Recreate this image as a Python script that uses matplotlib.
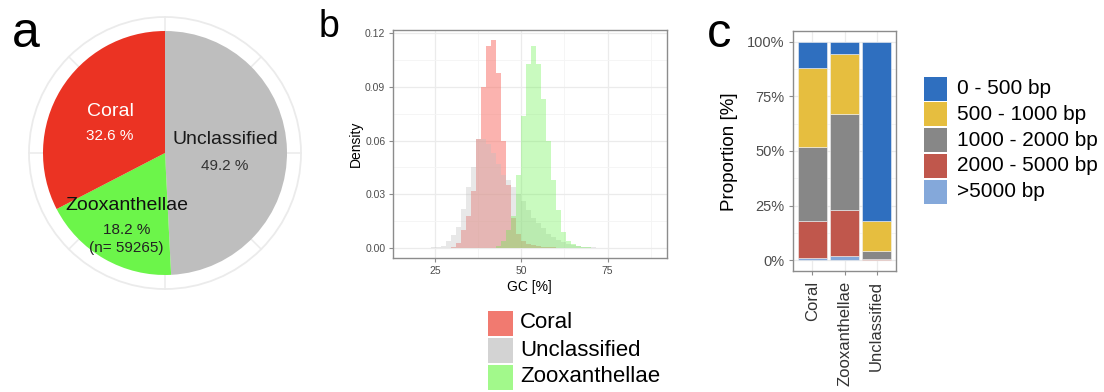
import matplotlib
matplotlib.use("Agg")
import matplotlib.pyplot as plt
import numpy as np
from matplotlib.patches import Rectangle, Circle
from matplotlib.ticker import FormatStrFormatter

plt.rcParams['font.family'] = ['Liberation Sans', 'DejaVu Sans']

# ---------------- data ----------------
# panel a: pie (clockwise from 12 o'clock)
pie_labels = ['Unclassified', 'Zooxanthellae', 'Coral']
pie_pct = [49.2, 18.2, 32.6]
zoox_n = 59265

# panel b: GC histogram densities (shared bins)
gc_bin_width = 1.45
gc_first_edge = 22.35
gc_coral = [0, 0, 0, 0, 0.0002, 0.0008, 0.003, 0.010, 0.018, 0.032, 0.061, 0.090,
            0.113, 0.116, 0.098, 0.060, 0.035, 0.017, 0.008, 0.004, 0.0025, 0.0018,
            0.0012, 0.0008, 0.0005, 0.0003, 0.0002, 0.0001, 0, 0, 0, 0, 0, 0, 0, 0, 0]
gc_unclassified = [0.0001, 0.0003, 0.0007, 0.0013, 0.004, 0.007, 0.012, 0.022, 0.034,
                   0.045, 0.061, 0.061, 0.058, 0.053, 0.047, 0.041, 0.038, 0.034, 0.030,
                   0.026, 0.021, 0.017, 0.014, 0.011, 0.008, 0.006, 0.0045, 0.0035,
                   0.0025, 0.0018, 0.0012, 0.0008, 0.0005, 0.0003, 0.0002, 0.0001, 0.0001]
gc_zoox = [0, 0, 0, 0, 0, 0, 0, 0, 0, 0, 0, 0, 0, 0, 0.001, 0.004, 0.010, 0.018, 0.041,
           0.074, 0.103, 0.113, 0.103, 0.083, 0.060, 0.038, 0.021, 0.009, 0.004, 0.002,
           0.001, 0.0005, 0.0003, 0.0002, 0, 0, 0]
gc_groups = ['Coral', 'Unclassified', 'Zooxanthellae']

# panel c: contig length proportions
len_categories = ['Coral', 'Zooxanthellae', 'Unclassified']
len_classes = ['0 - 500 bp', '500 - 1000 bp', '1000 - 2000 bp', '2000 - 5000 bp', '>5000 bp']
p_0_500 = [0.119, 0.055, 0.823]
p_500_1000 = [0.361, 0.275, 0.137]
p_1000_2000 = [0.343, 0.439, 0.035]
p_2000_5000 = [0.168, 0.210, 0.004]
p_gt5000 = [0.009, 0.021, 0.001]

# ---------------- figure ----------------
W, H = 1104, 392
fig = plt.figure(figsize=(W / 100, H / 100), dpi=100)


def add_ax(x0, y0, x1, y1):
    return fig.add_axes([x0 / W, 1 - y1 / H, (x1 - x0) / W, (y1 - y0) / H])


def fx(x):
    return x / W


def fy(y):
    return 1 - y / H


# ---------- panel a ----------
axa = add_ax(15, 3, 315, 303)
R_out, R_pie = 136, 122
for ang in np.deg2rad(np.arange(0, 360, 45)):
    axa.plot([0, R_out * np.cos(ang)], [0, R_out * np.sin(ang)], color='#EBEBEB', lw=1.1, zorder=0)
axa.add_patch(Circle((0, 0), R_out, fill=False, ec='#EBEBEB', lw=1.3, zorder=0))
pie_colors = {'Unclassified': '#BEBEBE', 'Zooxanthellae': '#6CF54A', 'Coral': '#EB3323'}
axa.pie(pie_pct, colors=[pie_colors[l] for l in pie_labels], radius=R_pie, startangle=90,
        counterclock=False, wedgeprops=dict(linewidth=0, zorder=2))
axa.set_xlim(-150, 150)
axa.set_ylim(-150, 150)
axa.set_aspect('equal')
axa.axis('off')
pct = dict(zip(pie_labels, pie_pct))
axa.text(-55, 41, 'Coral', color='white', fontsize=14, ha='center', va='center', zorder=5)
axa.text(-55, 17, f"{pct['Coral']} %", color='white', fontsize=11, ha='center', va='center', zorder=5)
axa.text(60, 13, 'Unclassified', color='#1A1A1A', fontsize=14, ha='center', va='center', zorder=5)
axa.text(60, -13, f"{pct['Unclassified']} %", color='#333333', fontsize=11, ha='center', va='center', zorder=5)
axa.text(-38, -52, 'Zooxanthellae', color='#111111', fontsize=14, ha='center', va='center', zorder=5)
axa.text(-38, -77, f"{pct['Zooxanthellae']} %", color='#222222', fontsize=11, ha='center', va='center', zorder=5)
axa.text(-39, -95, f"(n= {zoox_n})", color='#222222', fontsize=11, ha='center', va='center', zorder=5)

# ---------- panel b ----------
axb = add_ax(393, 30, 667, 258)
gc_edges = gc_first_edge + gc_bin_width * np.arange(len(gc_coral) + 1)
hist_style = {'Coral': ('#F8766D', 0.55), 'Unclassified': ('#BEBEBE', 0.35),
              'Zooxanthellae': ('#66F24A', 0.35)}
for name, vals in zip(gc_groups, [gc_coral, gc_unclassified, gc_zoox]):
    c, a = hist_style[name]
    axb.stairs(vals, gc_edges, fill=True, color=c, alpha=a, linewidth=0, zorder=2)
axb.set_xlim(12.82, 92.2)
axb.set_ylim(-0.0056, 0.1218)
axb.set_xticks([25, 50, 75])
axb.set_xticks([37.5, 62.5, 87.5], minor=True)
axb.set_yticks([0, 0.03, 0.06, 0.09, 0.12])
axb.set_yticks([0.015, 0.045, 0.075, 0.105], minor=True)
axb.yaxis.set_major_formatter(FormatStrFormatter('%.2f'))
axb.grid(which='major', color='#EBEBEB', lw=0.9, zorder=0)
axb.grid(which='minor', color='#F4F4F4', lw=0.6, zorder=0)
axb.set_axisbelow(True)
for s in axb.spines.values():
    s.set_color('#8C8C8C')
    s.set_linewidth(1.0)
axb.tick_params(which='major', labelsize=7.5, labelcolor='#4D4D4D', color='#8C8C8C', length=3, width=0.8, pad=2.5)
axb.tick_params(which='minor', length=0)
fig.text(fx(355.5), fy(144), 'Density', rotation=90, fontsize=10, ha='center', va='center')
fig.text(fx(529), fy(287), 'GC [%]', fontsize=10, ha='center', va='center')

# legend b
legend_b_colors = ['#F17A70', '#D3D3D3', '#A2F98B']
for i, (name, col) in enumerate(zip(gc_groups, legend_b_colors)):
    yc = 323 + 27 * i
    fig.patches.append(Rectangle((fx(488), fy(yc + 12.5)), 25 / W, 25 / H, transform=fig.transFigure,
                                 facecolor=col, edgecolor='none'))
    fig.text(fx(520), fy(yc), name, fontsize=16, ha='left', va='center')

# ---------- panel c ----------
axc = add_ax(793, 31, 896, 271)
x = np.arange(1, len(len_categories) + 1)
stack_bottom_to_top = [p_gt5000, p_2000_5000, p_1000_2000, p_500_1000, p_0_500]
len_colors = {'0 - 500 bp': '#2F6FBF', '500 - 1000 bp': '#E6BE3F', '1000 - 2000 bp': '#878787',
              '2000 - 5000 bp': '#C0574C', '>5000 bp': '#84A8DA'}
classes_bottom_to_top = ['>5000 bp', '2000 - 5000 bp', '1000 - 2000 bp', '500 - 1000 bp', '0 - 500 bp']
bottom = np.zeros(len(len_categories))
for cls, vals in zip(classes_bottom_to_top, stack_bottom_to_top):
    axc.bar(x, vals, bottom=bottom, width=0.9, color=len_colors[cls], edgecolor='#F2F2F2',
            linewidth=0.4, zorder=2)
    bottom += np.array(vals)
axc.set_xlim(0.4, 3.6)
axc.set_ylim(-0.05, 1.05)
axc.set_xticks(x)
axc.set_xticklabels(len_categories, rotation=90)
axc.set_yticks([0, 0.25, 0.5, 0.75, 1.0])
axc.set_yticklabels(['0%', '25%', '50%', '75%', '100%'])
axc.set_yticks([0.125, 0.375, 0.625, 0.875], minor=True)
axc.grid(which='major', color='#EBEBEB', lw=0.9, zorder=0)
axc.grid(which='minor', color='#F4F4F4', lw=0.6, zorder=0)
axc.set_axisbelow(True)
for s in axc.spines.values():
    s.set_color('#8C8C8C')
    s.set_linewidth(1.0)
axc.tick_params(which='major', color='#8C8C8C', length=3, width=0.8)
axc.tick_params(axis='y', labelsize=10.5, labelcolor='#4D4D4D', pad=3)
axc.tick_params(axis='x', labelsize=12, labelcolor='#333333', pad=4)
axc.tick_params(which='minor', length=0)
fig.text(fx(729), fy(152), 'Proportion [%]', rotation=90, fontsize=13.5, ha='center', va='center')

# legend c
for i, cls in enumerate(len_classes):
    yc = 88.5 + 25.8 * i
    fig.patches.append(Rectangle((fx(924), fy(yc + 12)), 23 / W, 24 / H, transform=fig.transFigure,
                                 facecolor=len_colors[cls], edgecolor='none'))
    fig.text(fx(957), fy(yc), cls, fontsize=15, ha='left', va='center')

# panel letters
fig.text(fx(12), fy(47), 'a', fontsize=36, va='baseline', ha='left')
fig.text(fx(319), fy(37), 'b', fontsize=27, va='baseline', ha='left')
fig.text(fx(707), fy(47), 'c', fontsize=35, va='baseline', ha='left')

fig.savefig('out.png', dpi=100)
